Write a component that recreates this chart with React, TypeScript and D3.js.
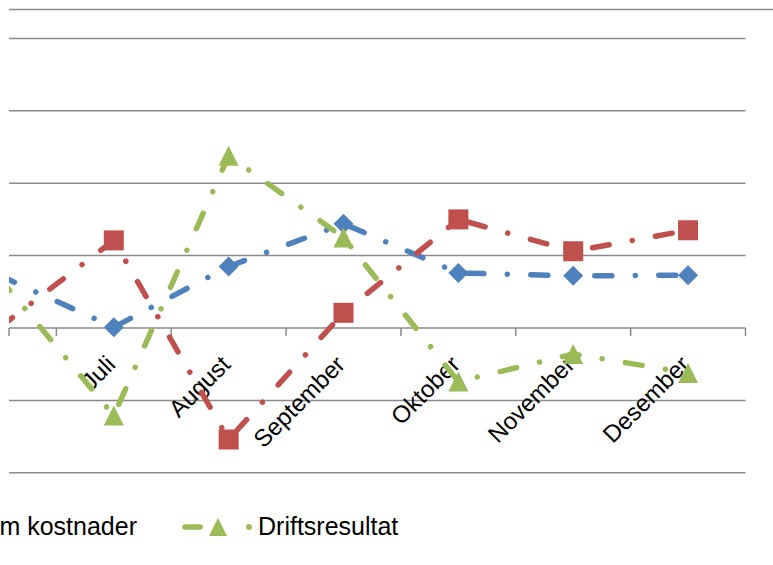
import * as d3 from "d3";

const months = ["Juni", "Juli", "August", "September", "Oktober", "November", "Desember"];
// values in gridline units (one unit per horizontal gridline, 0 = category axis)
const inntekter = [0.73, 0.01, 0.85, 1.44, 0.76, 0.72, 0.73];
const kostnader = [0.0, 1.21, -1.54, 0.21, 1.5, 1.06, 1.35];
const driftsresultat = [0.7, -1.21, 2.38, 1.25, -0.74, -0.36, -0.62];
const yTicks = [-2, -1, 0, 1, 2, 3, 4];
// first month lies left of the visible area, its label is not shown
const shownLabels = months.slice(1);

const W = 773;
const H = 565;
const plotLeft = 9;
const plotRight = 745.5;
const grid = "#8a8a8a";
const dash = "17 23.5 0.01 23.5";
const font = "'Liberation Sans', Arial, sans-serif";

type Series = { name: string; values: number[]; color: string; marker: "diamond" | "square" | "triangle" };

const series: Series[] = [
  { name: "Sum inntekter", values: inntekter, color: "#4F81BD", marker: "diamond" },
  { name: "Sum kostnader", values: kostnader, color: "#C0504D", marker: "square" },
  { name: "Driftsresultat", values: driftsresultat, color: "#9BBB59", marker: "triangle" },
];

function Marker({ kind, x, y, color, size = 20 }: { kind: string; x: number; y: number; color: string; size?: number }) {
  const h = size / 2;
  if (kind === "diamond") {
    return <path d={`M${x},${y - h}L${x + h},${y}L${x},${y + h}L${x - h},${y}Z`} fill={color} />;
  }
  if (kind === "square") {
    return <rect x={x - h} y={y - h} width={size} height={size} fill={color} />;
  }
  return <path d={`M${x},${y - h}L${x + h},${y + h}L${x - h},${y + h}Z`} fill={color} />;
}

export default function App() {
  const x = d3.scaleBand<string>().domain(months).range([-58.5, plotRight]);
  const cx = (m: string) => (x(m) ?? 0) + x.bandwidth() / 2;
  const y = d3.scaleLinear().domain([-2, 4]).range([472.8, 38.4]);

  const line = d3
    .line<number>()
    .x((_, i) => cx(months[i]))
    .y((d) => y(d));

  const tickXs = months.map((m) => (x(m) ?? 0) + x.bandwidth());

  return (
    <div style={{ position: "fixed", left: 0, top: 0 }}>
      <svg width={W} height={H} style={{ display: "block", background: "#fff" }} fontFamily={font}>
        <defs>
          <clipPath id="plot">
            <rect x={plotLeft} y={0} width={W - plotLeft} height={H} />
          </clipPath>
        </defs>

        <line x1={plotLeft} x2={W} y1={9.5} y2={9.5} stroke={grid} strokeWidth={1.5} />

        {yTicks.map((t) => (
          <line key={t} x1={plotLeft} x2={plotRight} y1={y(t)} y2={y(t)} stroke={grid} strokeWidth={1.5} />
        ))}

        {[plotLeft, ...tickXs].map((tx, i) => (
          <line key={i} x1={tx} x2={tx} y1={y(0)} y2={y(0) + 8} stroke={grid} strokeWidth={1.5} />
        ))}

        {shownLabels.map((m) => (
          <text
            key={m}
            transform={`translate(${cx(m) + 3},${y(0) + 38}) rotate(-45)`}
            textAnchor="end"
            fontSize={24}
            fill="#000"
          >
            {m}
          </text>
        ))}

        <g clipPath="url(#plot)">
          {series.map((s) => (
            <path
              key={s.name}
              d={line(s.values) ?? ""}
              fill="none"
              stroke={s.color}
              strokeWidth={5.5}
              strokeLinecap="round"
              strokeDasharray={dash}
            />
          ))}
          {series.map((s) =>
            s.values.map((v, i) => (
              <Marker key={s.name + i} kind={s.marker} x={cx(months[i])} y={y(v)} color={s.color} />
            ))
          )}
        </g>

        <g fontSize={25} fill="#000">
          <text x={137} y={535} textAnchor="end">
            Sum kostnader
          </text>
          <line x1={185} x2={200} y1={527} y2={527} stroke="#9BBB59" strokeWidth={5.5} strokeLinecap="round" />
          <circle cx={249} cy={527} r={2.9} fill="#9BBB59" />
          <Marker kind="triangle" x={218} y={527} color="#9BBB59" size={18} />
          <text x={258} y={535}>
            Driftsresultat
          </text>
        </g>
      </svg>
    </div>
  );
}
